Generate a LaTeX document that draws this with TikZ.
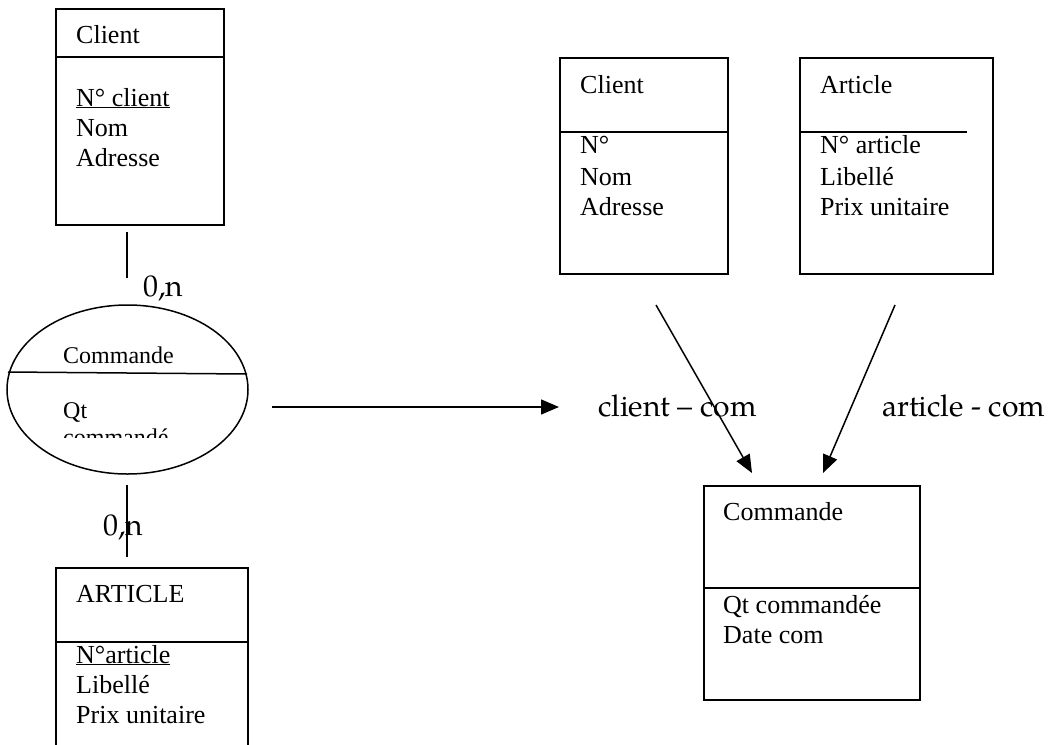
\documentclass[tikz,border=0pt]{standalone}
\usepackage{fontspec}
\setmainfont{Liberation Serif}
\newfontfamily\palfont{texgyrepagella-regular.otf}
\usepackage{tikz}
\usetikzlibrary{arrows.meta, positioning, shapes.geometric}

\tikzset{
  entbox/.style={draw, line width=1.5pt, inner sep=0pt, anchor=north west},
  attr/.style={anchor=base west, inner sep=0pt, font=\fontsize{26}{31}\selectfont},
  attrsmall/.style={anchor=base west, inner sep=0pt, font=\fontsize{24}{28}\selectfont},
  card/.style={anchor=base west, inner sep=0pt, font=\palfont\fontsize{30}{36}\selectfont},
  link/.style={line width=1.5pt},
  flow/.style={line width=1.5pt, -{Triangle[length=18pt, width=15pt]}}
}

\begin{document}
\begin{tikzpicture}[x=1pt, y=-1pt]
  \useasboundingbox (0,0) rectangle (1056,744);

  % left: entity Client
  \node[entbox, minimum width=168pt, minimum height=216pt] (cliA) at (55,8) {};
  \draw[link] (55,57) -- (223,57);
  \node[attr] (cliAname) at (76,43) {Client};
  \node[attr] (cliAnum) at (76,106) {\underline{N° client}};
  \node[attr] (cliAnom) at (76,136) {Nom};
  \node[attr] (cliAadr) at (76,166) {Adresse};

  % left: link Client - Commande
  \coordinate (linkAtop) at (127,232);
  \coordinate (linkAbot) at (127,278);
  \draw[link] (linkAtop) -- (linkAbot);
  \node[card] (cardA) at (143,296) {0,n};

  % left: association Commande
  \node[draw, ellipse, line width=1.5pt, minimum width=241pt, minimum height=169pt] (comE) at (127.5,389.5) {};
  \draw[link] (8,372) -- (247,374);
  \node[attrsmall] (comEname) at (63,363) {Commande};
  \node[attrsmall] (comEqt) at (63,418) {Qt};
  \begin{scope}
    \clip (0,0) rectangle (1056,437);
    \node[attrsmall] (comEqt2) at (63,445) {commandé};
  \end{scope}

  % left: link Commande - Article
  \coordinate (linkBtop) at (127,485);
  \coordinate (linkBbot) at (127,557);
  \draw[link] (linkBtop) -- (linkBbot);
  \node[card] (cardB) at (103,535) {0,n};

  % left: entity ARTICLE
  \node[entbox, minimum width=192pt, minimum height=200pt] (artA) at (55,567) {};
  \draw[link] (55,642) -- (247,642);
  \node[attr] (artAname) at (76,602) {ARTICLE};
  \node[attr] (artAnum) at (76,663) {\underline{N°article}};
  \node[attr] (artAlib) at (76,693) {Libellé};
  \node[attr] (artAprix) at (76,723) {Prix unitaire};

  % transformation arrow
  \coordinate (transA) at (272,407);
  \coordinate (transB) at (559,407);
  \draw[flow] (transA) -- (transB);

  % right: table Client
  \node[entbox, minimum width=168pt, minimum height=216pt] (cliB) at (559,57) {};
  \draw[link] (559,132) -- (727,132);
  \node[attr] (cliBname) at (580,93) {Client};
  \node[attr] (cliBnum) at (580,153) {N°};
  \node[attr] (cliBnom) at (580,185) {Nom};
  \node[attr] (cliBadr) at (580,215) {Adresse};

  % right: table Article
  \node[entbox, minimum width=193pt, minimum height=216pt] (artB) at (799,57) {};
  \draw[link] (799,132) -- (967,132);
  \node[attr] (artBname) at (820,93) {Article};
  \node[attr] (artBnum) at (820,153) {N° article};
  \node[attr] (artBlib) at (820,185) {Libellé};
  \node[attr] (artBprix) at (820,215) {Prix unitaire};

  % right: labels of the foreign keys
  \node[card] (lblCli) at (598,416) {client – com};
  \node[card] (lblArt) at (882,416) {article - com};

  % right: table Commande
  \node[entbox, minimum width=216pt, minimum height=214pt] (comB) at (703,485) {};
  \draw[link] (703,588) -- (919,588);
  \node[attr] (comBname) at (723,520) {Commande};
  \node[attr] (comBqt) at (723,613) {Qt commandée};
  \node[attr] (comBdate) at (723,643) {Date com};

  % right: references
  \coordinate (refCli) at (656,305);
  \coordinate (refArt) at (895,305);
  \draw[flow] (refCli) -- (752,473);
  \draw[flow] (refArt) -- (823,473);
\end{tikzpicture}
\end{document}
